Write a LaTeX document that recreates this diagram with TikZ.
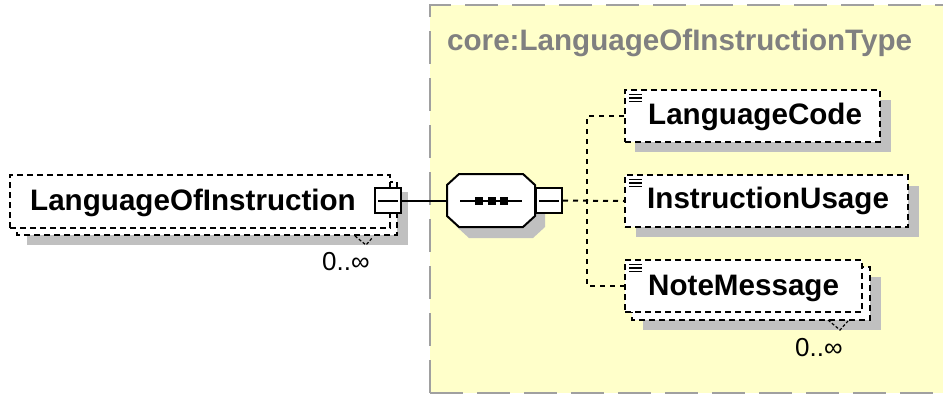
\documentclass[tikz,border=0pt]{standalone}
\usepackage{fontspec}
\setmainfont{Liberation Sans}
\usetikzlibrary{calc}
\definecolor{bgyellow}{RGB}{255,255,202}
\definecolor{shadowgray}{RGB}{192,192,192}
\definecolor{titlegray}{RGB}{128,128,128}
\definecolor{framegray}{RGB}{160,160,160}
\tikzset{
  elbox/.style={draw=black, fill=white, line width=2pt, dash pattern=on 6pt off 4pt, rectangle, inner sep=0pt},
  eltext/.style={font=\fontsize{29.6}{31}\selectfont\bfseries, anchor=base west, inner sep=0pt},
  occtext/.style={font=\fontsize{26}{28}\selectfont, anchor=base west, inner sep=0pt},
  conn/.style={line width=2pt, dash pattern=on 5pt off 5pt},
  solidconn/.style={line width=2pt},
  minusbox/.style={draw=black, fill=white, line width=2pt, minimum width=26pt, minimum height=25pt, inner sep=0pt},
  chevron/.style={line width=1.2pt, dash pattern=on 3pt off 2pt},
  icon/.style={line width=1.4pt},
}
\begin{document}
\begin{tikzpicture}[x=1pt,y=-1pt]
\useasboundingbox (0,0) rectangle (943,394);
% type frame
\fill[bgyellow] (430,5) rectangle (960,393);
\draw[framegray, line width=2.5pt, dash pattern=on 33pt off 14pt] (430,393) -- (430,5) -- (960,5);
\draw[framegray, line width=2.5pt, dash pattern=on 33pt off 14pt] (430,393) -- (960,393);
\node[font=\fontsize{29.6}{31}\selectfont\bfseries, text=titlegray, anchor=base west, inner sep=0pt] (title) at (447,50) {core:LanguageOfInstructionType};

% LanguageOfInstruction (multiple)
\fill[shadowgray] (27,192) rectangle (408,245);
\draw[elbox] (17,182) rectangle (397,235);
\node[elbox, minimum width=380pt, minimum height=53pt] (loi) at (200,201.5) {};
\node[eltext] (loitext) at (30,210) {LanguageOfInstruction};
\node[minusbox] (loiminus) at (388,200.5) {};
\draw[solidconn] ($(loiminus.west)+(4,0)$) -- ($(loiminus.east)+(-4,0)$);
\draw[chevron] (355,236) -- (366,245) -- (373,237);
\node[occtext] (loiocc) at (322,270) {0..∞};

% sequence compositor
\fill[shadowgray, shift={(10,11)}] (459,174) -- (523,174) -- (535,185) -- (535,216) -- (523,227) -- (459,227) -- (447,216) -- (447,185) -- cycle;
\draw[line width=2pt, fill=white] (459,174) -- (523,174) -- (535,185) -- (535,216) -- (523,227) -- (459,227) -- (447,216) -- (447,185) -- cycle;
\node[minimum width=88pt, minimum height=53pt, inner sep=0pt] (seq) at (491,200.5) {};
\draw[solidconn] (460,200.5) -- (522,200.5);
\fill (479,200.5) +(-4,-4) rectangle +(4,4);
\fill (491.5,200.5) +(-4,-4) rectangle +(4,4);
\fill (504,200.5) +(-4,-4) rectangle +(4,4);
\node[minusbox] (seqminus) at (549,200.5) {};
\draw[solidconn] ($(seqminus.west)+(4,0)$) -- ($(seqminus.east)+(-4,0)$);
\draw[solidconn] (loiminus.east) -- (seq.west);

% LanguageCode
\fill[shadowgray] (635,100) rectangle (891,152);
\node[elbox, minimum width=255pt, minimum height=52pt] (lc) at (752.5,116) {};
\node[eltext] (lctext) at (648,124) {LanguageCode};
\draw[icon] ($(lc.north west)+(5,5.7)$) -- +(13,0);
\draw[icon] ($(lc.north west)+(5,9)$) -- +(13,0);
\draw[icon] ($(lc.north west)+(5,12.3)$) -- +(13,0);

% InstructionUsage
\fill[shadowgray] (636,186) rectangle (919,237);
\node[elbox, minimum width=283pt, minimum height=52pt] (iu) at (766.5,201) {};
\node[eltext] (iutext) at (647,208) {InstructionUsage};
\draw[icon] ($(iu.north west)+(5,5.7)$) -- +(13,0);
\draw[icon] ($(iu.north west)+(5,9)$) -- +(13,0);
\draw[icon] ($(iu.north west)+(5,12.3)$) -- +(13,0);

% NoteMessage (multiple)
\fill[shadowgray] (643,277) rectangle (881,330);
\draw[elbox] (632,267) rectangle (870,320);
\node[elbox, minimum width=237pt, minimum height=52pt] (nm) at (743.5,286) {};
\node[eltext] (nmtext) at (648,295) {NoteMessage};
\draw[icon] ($(nm.north west)+(5,5.7)$) -- +(13,0);
\draw[icon] ($(nm.north west)+(5,9)$) -- +(13,0);
\draw[icon] ($(nm.north west)+(5,12.3)$) -- +(13,0);
\draw[chevron] (828,320) -- (840,330) -- (848,321);
\node[occtext] (nmocc) at (795,356) {0..∞};

% connectors
\coordinate (j) at (587,200.5);
\draw[conn] (seqminus.east) -- (iu.west);
\draw[conn] (lc.west) -- (lc.west -| j) -- (nm.west -| j) -- (nm.west);
\end{tikzpicture}
\end{document}
